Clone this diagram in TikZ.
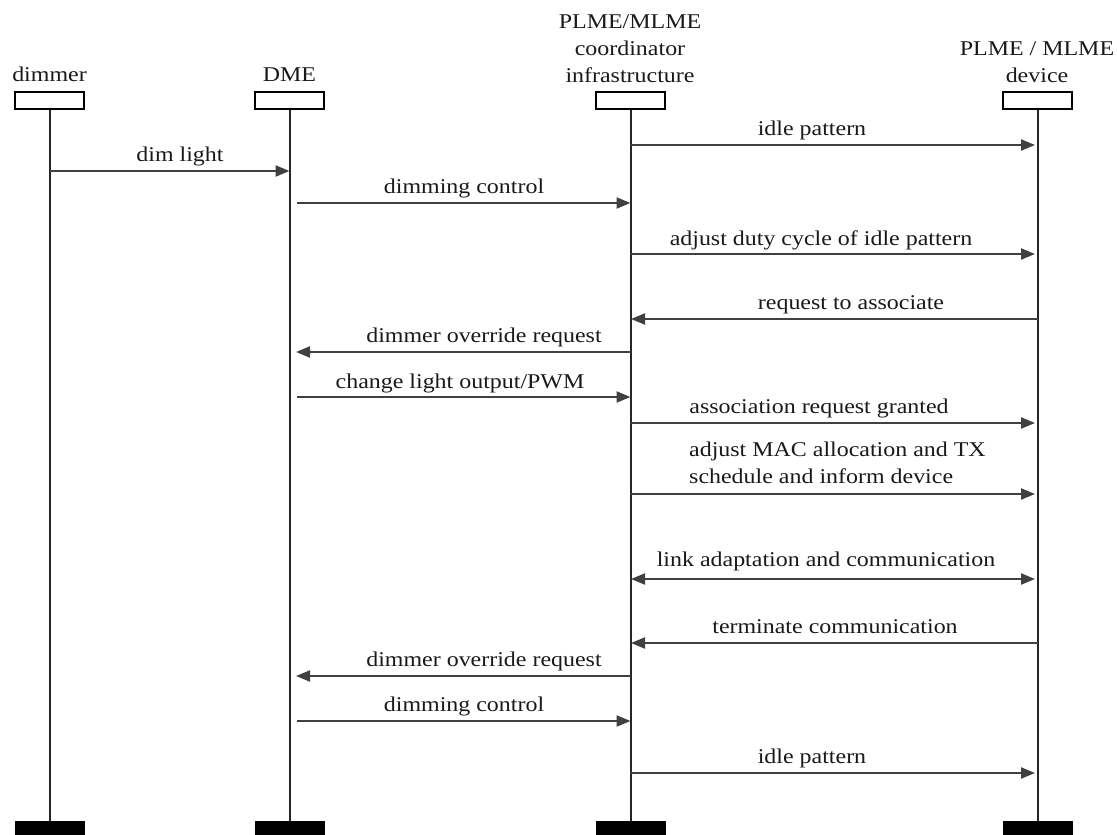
\documentclass[tikz,border=0pt]{standalone}
\usepackage{fontspec}
\setmainfont{Liberation Serif}[FakeStretch=1.14]
\usetikzlibrary{arrows.meta}
\begin{document}
\begin{tikzpicture}[x=1pt,y=-1pt,
  headbox/.style={draw=black, fill=white, line width=1.8pt, minimum width=69pt, minimum height=17pt, inner sep=0pt},
  footbox/.style={fill=black, minimum width=70pt, minimum height=14pt, inner sep=0pt},
  lifeline/.style={line width=2pt, draw=black!85},
  tip/.tip={Triangle[length=14pt,width=11pt]},
  msg/.style={line width=2.2pt, draw=black!75, -tip},
  bimsg/.style={line width=2.2pt, draw=black!75, tip-tip},
  lbl/.style={anchor=base, inner sep=0pt, text=black!90, font=\fontsize{21}{27}\selectfont},
  hdr/.style={anchor=base, inner sep=0pt, text=black!90, font=\fontsize{21}{27}\selectfont}]

\useasboundingbox (0,0) rectangle (1117,835);

% participants
\node[hdr] (tdim) at (49.5,81) {dimmer};
\node[hdr] (tdme) at (289.5,81) {DME};
\node[hdr] (tco1) at (630,28) {PLME/MLME};
\node[hdr] (tco2) at (630,55) {coordinator};
\node[hdr] (tco3) at (630,82) {infrastructure};
\node[hdr] (tdv1) at (1037,55) {PLME / MLME};
\node[hdr] (tdv2) at (1037,82) {device};

\node[headbox] (hdim) at (49.5,100.5) {};
\node[headbox] (hdme) at (289.5,100.5) {};
\node[headbox] (hco)  at (630.5,100.5) {};
\node[headbox] (hdv)  at (1037.5,100.5) {};

\node[footbox] (fdim) at (49.5,828) {};
\node[footbox] (fdme) at (289.5,828) {};
\node[footbox] (fco)  at (630.5,828) {};
\node[footbox] (fdv)  at (1037.5,828) {};

\draw[lifeline] (hdim.south) -- (fdim.north);
\draw[lifeline] (hdme.south) -- (fdme.north);
\draw[lifeline] (hco.south) -- (fco.north);
\draw[lifeline] (hdv.south) -- (fdv.north);

% message end points
\coordinate (a1) at (630.5,145);  \coordinate (b1) at (1035,145);
\coordinate (a2) at (49.5,171);   \coordinate (b2) at (289.5,171);
\coordinate (a3) at (297,203);    \coordinate (b3) at (630.5,203);
\coordinate (a4) at (630.5,254);  \coordinate (b4) at (1035,254);
\coordinate (a5) at (1037.5,319); \coordinate (b5) at (631,319);
\coordinate (a6) at (630.5,352);  \coordinate (b6) at (296,352);
\coordinate (a7) at (297,397);    \coordinate (b7) at (630.5,397);
\coordinate (a8) at (630.5,423);  \coordinate (b8) at (1035,423);
\coordinate (a9) at (630.5,494);  \coordinate (b9) at (1035,494);
\coordinate (a10) at (631,579);   \coordinate (b10) at (1035,579);
\coordinate (a11) at (1037.5,643);\coordinate (b11) at (631,643);
\coordinate (a12) at (630.5,676); \coordinate (b12) at (296,676);
\coordinate (a13) at (297,721);   \coordinate (b13) at (630.5,721);
\coordinate (a14) at (630.5,773); \coordinate (b14) at (1035,773);

% messages
\draw[msg] (a1) -- (b1);
\draw[msg] (a2) -- (b2);
\draw[msg] (a3) -- (b3);
\draw[msg] (a4) -- (b4);
\draw[msg] (a5) -- (b5);
\draw[msg] (a6) -- (b6);
\draw[msg] (a7) -- (b7);
\draw[msg] (a8) -- (b8);
\draw[msg] (a9) -- (b9);
\draw[bimsg] (a10) -- (b10);
\draw[msg] (a11) -- (b11);
\draw[msg] (a12) -- (b12);
\draw[msg] (a13) -- (b13);
\draw[msg] (a14) -- (b14);

% message labels
\node[lbl] (l1) at (812,135) {idle pattern};
\node[lbl] (l2) at (180,161) {dim light};
\node[lbl] (l3) at (464,193) {dimming control};
\node[lbl] (l4) at (821,245) {adjust duty cycle of idle pattern};
\node[lbl] (l5) at (851,309) {request to associate};
\node[lbl] (l6) at (484,342) {dimmer override request};
\node[lbl] (l7) at (460,388) {change light output/PWM};
\node[lbl] (l8) at (819,413) {association request granted};
\node[lbl, anchor=base west] (l9a) at (689,456) {adjust MAC allocation and TX};
\node[lbl, anchor=base west] (l9b) at (689,483) {schedule and inform device};
\node[lbl] (l10) at (826,566) {link adaptation and communication};
\node[lbl] (l11) at (835,633) {terminate communication};
\node[lbl] (l12) at (484,666) {dimmer override request};
\node[lbl] (l13) at (464,711) {dimming control};
\node[lbl] (l14) at (812,763) {idle pattern};
\end{tikzpicture}
\end{document}
